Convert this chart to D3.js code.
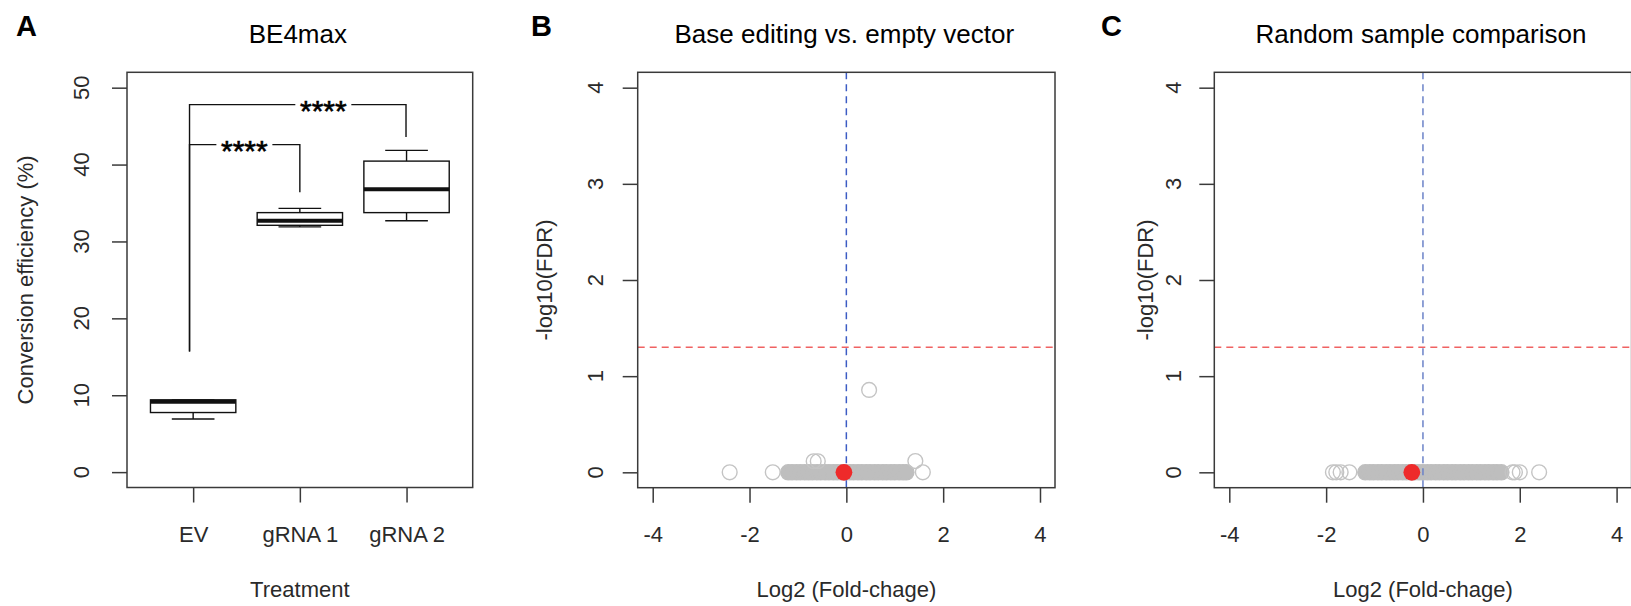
<!DOCTYPE html>
<html><head><meta charset="utf-8">
<script src="https://cdn.jsdelivr.net/npm/d3@7"></script>
<style>
body{margin:0;background:#fff}
svg{display:block}
text{font-family:"Liberation Sans",Arial,Helvetica,sans-serif}
</style>
</head><body>
<svg id="chart" width="1631" height="606"></svg>
<script>
// ---------------- Panel A data (box plot) ----------------
const treatments = ["EV", "gRNA 1", "gRNA 2"];
const whiskerLow = [6.9, 31.9, 32.7];
const boxQ1 = [7.75, 32.1, 33.75];
const boxMedian = [9.15, 32.7, 36.8];
const boxQ3 = [9.4, 33.75, 40.45];
const whiskerHigh = [9.4, 34.3, 41.85];
const yTicksA = [0, 10, 20, 30, 40, 50];
// significance brackets (x in category position units, y in %)
const bracketFrom = [0.966, 0.966];
const bracketTo = [2, 2.995];
const bracketLevel = [42.6, 47.8];
const bracketLeftEnd = [15.7, 15.7];
const bracketRightEnd = [36.4, 43.6];
const bracketLabel = ["****", "****"];
const bracketLabelPos = [1.48, 2.22];

// ---------------- Panel B data (volcano) ----------------
const bGreyFC = [-2.41, -1.52, 1.58, -0.675, -0.59, 1.425, 0.47];
const bGreyFDR = [0, 0, 0, 0.115, 0.115, 0.117, 0.857];
const bCoreFC = [-1.20, -1.12, -1.03, -0.95, -0.86, -0.78, -0.70, -0.61, -0.53, -0.44, -0.36, -0.27, -0.19, -0.10, -0.02, 0.07, 0.15, 0.24, 0.32, 0.41, 0.49, 0.58, 0.66, 0.75, 0.83, 0.92, 1.00, 1.09, 1.17, 1.24];
const bHighlightFC = [-0.05];
const bHighlightFDR = [0];

// ---------------- Panel C data (volcano) ----------------
const cGreyFC = [-1.86, -1.79, -1.70, -1.52, 1.85, 1.90, 2.00, 2.40];
const cGreyFDR = [0, 0, 0, 0, 0, 0, 0, 0];
const cCoreFC = [-1.19, -1.10, -1.02, -0.93, -0.85, -0.76, -0.68, -0.59, -0.51, -0.42, -0.34, -0.25, -0.17, -0.08, 0.00, 0.09, 0.17, 0.26, 0.34, 0.43, 0.51, 0.60, 0.68, 0.77, 0.85, 0.94, 1.02, 1.11, 1.19, 1.28, 1.36, 1.45, 1.53, 1.62];
const cHighlightFC = [-0.23];
const cHighlightFDR = [0];

const fdrThreshold = 1.301;  // -log10(0.05)
const xTicksFC = [-4, -2, 0, 2, 4];
const yTicksFDR = [0, 1, 2, 3, 4];

const titles = ["BE4max", "Base editing vs. empty vector", "Random sample comparison"];
const panelLetters = ["A", "B", "C"];

// ---------------- drawing ----------------
const svg = d3.select("#chart");
const FRAME = "#3a3a3a", TXT = "#2a2a2a";
const FONT_AX = 22;
const plain = (d) => String(d);  // R-style labels with ASCII hyphen

function frame(g, l, r, t, b) {
  g.append("rect").attr("x", l).attr("y", t).attr("width", r - l).attr("height", b - t)
    .attr("fill", "none").attr("stroke", FRAME).attr("stroke-width", 1.5);
}
function styleAxis(sel) {
  sel.select(".domain").remove();
  sel.selectAll(".tick line").attr("stroke", FRAME).attr("stroke-width", 1.5);
  sel.selectAll(".tick text").attr("fill", TXT).attr("font-size", FONT_AX);
}
function bottomAxis(g, scale, ticks, bottom, fmt) {
  const ax = g.append("g").attr("transform", `translate(0,${bottom})`)
    .call(d3.axisBottom(scale).tickValues(ticks).tickSize(15).tickFormat(fmt));
  styleAxis(ax);
  ax.selectAll(".tick text").attr("y", 54).attr("dy", null);
}
function leftAxis(g, scale, ticks, left, labelOffset) {
  const ax = g.append("g").attr("transform", `translate(${left},0)`)
    .call(d3.axisLeft(scale).tickValues(ticks).tickSize(15).tickFormat(() => ""));
  styleAxis(ax);
  ax.selectAll(".tick text").remove();
  // rotated labels (parallel to the axis, as in base R)
  ticks.forEach((d) => {
    const lg = g.append("g").attr("transform", `translate(${left - labelOffset},${scale(d)})`);
    lg.append("g").attr("transform", "rotate(-90)")
      .append("text").attr("x", 0).attr("y", 0)
      .attr("text-anchor", "middle").attr("font-size", FONT_AX).attr("fill", TXT)
      .text(plain(d));
  });
}
function title(txt, cx) {
  svg.append("text").attr("x", cx).attr("y", 42.5).attr("text-anchor", "middle")
    .attr("font-size", 26).attr("fill", "#000").text(txt);
}
function letter(txt, x) {
  svg.append("text").attr("x", x).attr("y", 36).attr("font-size", 29)
    .attr("font-weight", "bold").attr("fill", "#000").text(txt);
}
function xTitle(txt, cx) {
  svg.append("text").attr("x", cx).attr("y", 596.5).attr("text-anchor", "middle")
    .attr("font-size", FONT_AX).attr("fill", TXT).text(txt);
}
function yTitle(txt, x, cy) {
  svg.append("text").attr("transform", `translate(${x},${cy}) rotate(-90)`)
    .attr("text-anchor", "middle").attr("font-size", FONT_AX).attr("fill", TXT).text(txt);
}

// ----- Panel A -----
{
  const L = 127, R = 472.7, T = 72.3, B = 487.5;
  const x = d3.scaleLinear().domain([0.38, 3.62]).range([L, R]);
  const y = d3.scaleLinear().domain([-2, 52]).range([B, T]);
  const g = svg.append("g");
  const bw = 0.8, cw = 0.4;
  treatments.forEach((t, i) => {
    const c = i + 1;
    const bx = g.append("g").attr("stroke", "#111").attr("fill", "none");
    bx.append("line").attr("x1", x(c)).attr("x2", x(c)).attr("y1", y(whiskerLow[i])).attr("y2", y(boxQ1[i])).attr("stroke-width", 1.4);
    bx.append("line").attr("x1", x(c)).attr("x2", x(c)).attr("y1", y(whiskerHigh[i])).attr("y2", y(boxQ3[i])).attr("stroke-width", 1.4);
    bx.append("line").attr("x1", x(c - cw / 2)).attr("x2", x(c + cw / 2)).attr("y1", y(whiskerLow[i])).attr("y2", y(whiskerLow[i])).attr("stroke-width", 1.4);
    bx.append("line").attr("x1", x(c - cw / 2)).attr("x2", x(c + cw / 2)).attr("y1", y(whiskerHigh[i])).attr("y2", y(whiskerHigh[i])).attr("stroke-width", 1.4);
    bx.append("rect").attr("x", x(c - bw / 2)).attr("width", x(c + bw / 2) - x(c - bw / 2))
      .attr("y", y(boxQ3[i])).attr("height", y(boxQ1[i]) - y(boxQ3[i])).attr("fill", "#fff").attr("stroke-width", 1.4);
    bx.append("line").attr("x1", x(c - bw / 2)).attr("x2", x(c + bw / 2)).attr("y1", y(boxMedian[i])).attr("y2", y(boxMedian[i])).attr("stroke-width", 4);
  });
  bracketLevel.forEach((lv, i) => {
    g.append("path").attr("fill", "none").attr("stroke", "#111").attr("stroke-width", 1.4)
      .attr("d", `M${x(bracketFrom[i])},${y(bracketLeftEnd[i])}V${y(lv)}H${x(bracketTo[i])}V${y(bracketRightEnd[i])}`);
    const fs = 30;
    g.append("rect").attr("x", x(bracketLabelPos[i]) - 28).attr("width", 56)
      .attr("y", y(lv) - 10).attr("height", 20).attr("fill", "#fff");
    g.append("text").attr("x", x(bracketLabelPos[i])).attr("y", y(lv) + fs * 0.56)
      .attr("text-anchor", "middle").attr("font-size", fs).attr("fill", "#000")
      .attr("stroke", "#000").attr("stroke-width", 0.6).text(bracketLabel[i]);
  });
  frame(g, L, R, T, B);
  bottomAxis(g, x, [1, 2, 3], B, (d) => treatments[d - 1]);
  leftAxis(g, y, yTicksA, L, 38.5);
  title(titles[0], (L + R) / 2 - 2);
  letter(panelLetters[0], 16);
  xTitle("Treatment", (L + R) / 2);
  yTitle("Conversion efficiency (%)", 33, (T + B) / 2);
}

// ----- Volcano panels -----
function volcano(cfg) {
  const { L, R, T, B, greyFC, greyFDR, coreFC, hlFC, hlFDR, blue, labelOffset, yTitleX, titleTxt, letterTxt, letterX } = cfg;
  const x = d3.scaleLinear().domain([-4.31, 4.31]).range([L, R]);
  const y = d3.scaleLinear().domain([-0.16, 4.16]).range([B, T]);
  const g = svg.append("g");
  const clipId = "clip" + letterTxt;
  g.append("clipPath").attr("id", clipId).append("rect").attr("x", L).attr("y", T).attr("width", R - L).attr("height", B - T);
  const pg = g.append("g").attr("clip-path", `url(#${clipId})`);
  pg.selectAll("circle.core").data(coreFC).join("circle").attr("class", "core")
    .attr("cx", (d) => x(d)).attr("cy", y(0)).attr("r", 7.6)
    .attr("fill", "#bebebe").attr("stroke", "#bebebe").attr("stroke-width", 1.3);
  pg.selectAll("circle.grey").data(greyFC).join("circle").attr("class", "grey")
    .attr("cx", (d) => x(d)).attr("cy", (d, i) => y(greyFDR[i])).attr("r", 7.4)
    .attr("fill", "none").attr("stroke", "#c4c4c4").attr("stroke-width", 1.4);
  pg.append("line").attr("x1", L).attr("x2", R).attr("y1", y(fdrThreshold)).attr("y2", y(fdrThreshold))
    .attr("stroke", "#f06262").attr("stroke-width", 1.5).attr("stroke-dasharray", "7,5");
  pg.append("line").attr("x1", x(0)).attr("x2", x(0)).attr("y1", T).attr("y2", B)
    .attr("stroke", blue).attr("stroke-width", 1.5).attr("stroke-dasharray", "7,5");
  pg.selectAll("circle.hl").data(hlFC).join("circle").attr("class", "hl")
    .attr("cx", (d) => x(d)).attr("cy", (d, i) => y(hlFDR[i])).attr("r", 8.4)
    .attr("fill", "#ee2a2a");
  frame(g, L, R, T, B);
  bottomAxis(g, x, xTicksFC, B, plain);
  leftAxis(g, y, yTicksFDR, L, labelOffset);
  title(titleTxt, (L + R) / 2 - 2);
  letter(letterTxt, letterX);
  xTitle("Log2 (Fold-chage)", (L + R) / 2);
  yTitle("-log10(FDR)", yTitleX, (T + B) / 2);
}

volcano({ L: 637.7, R: 1055, T: 72.3, B: 487.7, greyFC: bGreyFC, greyFDR: bGreyFDR, coreFC: bCoreFC,
  hlFC: bHighlightFC, hlFDR: bHighlightFDR, blue: "#3c5cc4", labelOffset: 34.5, yTitleX: 552,
  titleTxt: titles[1], letterTxt: panelLetters[1], letterX: 531 });
volcano({ L: 1214.3, R: 1631.6, T: 72.3, B: 487.7, greyFC: cGreyFC, greyFDR: cGreyFDR, coreFC: cCoreFC,
  hlFC: cHighlightFC, hlFDR: cHighlightFDR, blue: "#6b82c8", labelOffset: 33.5, yTitleX: 1153,
  titleTxt: titles[2], letterTxt: panelLetters[2], letterX: 1101 });
</script>
</body></html>
